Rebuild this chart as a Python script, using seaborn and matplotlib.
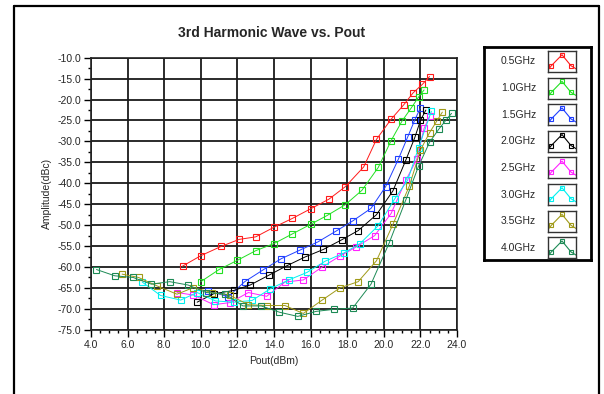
import numpy as np
import pandas as pd
import matplotlib.pyplot as plt
import seaborn as sns
from matplotlib.lines import Line2D
from matplotlib.ticker import MultipleLocator, FormatStrFormatter

# ---- data ----
freqs = ['0.5GHz', '1.0GHz', '1.5GHz', '2.0GHz', '2.5GHz', '3.0GHz', '3.5GHz', '4.0GHz']
colors = ['#ff1a1a', '#22e022', '#1f3fff', '#000000', '#ff22ff', '#00f0f0', '#a09a18', '#1c8a55']

red_x = [9.0, 10.0, 11.1, 12.1, 13.0, 14.0, 15.0, 16.0, 17.0, 17.9, 18.9, 19.6, 20.4, 21.1, 21.6, 22.1, 22.5]
red_y = [-59.8, -57.3, -55.1, -53.4, -52.8, -50.5, -48.4, -46.1, -43.8, -40.8, -36.1, -29.5, -24.7, -21.2, -18.4, -16.4, -14.5]

green_x = [10.0, 11.0, 12.0, 13.0, 14.0, 15.0, 16.0, 16.9, 17.9, 18.8, 19.7, 20.4, 21.0, 21.5, 21.9, 22.2]
green_y = [-63.5, -60.6, -58.4, -56.1, -54.4, -52.1, -49.8, -47.7, -45.1, -41.7, -36.2, -29.8, -25.1, -22.0, -19.4, -17.7]

blue_x = [10.4, 11.5, 12.4, 13.4, 14.4, 15.4, 16.4, 17.4, 18.3, 19.3, 20.1, 20.8, 21.3, 21.7, 22.0]
blue_y = [-65.7, -67.1, -63.5, -60.7, -58.0, -56.0, -54.0, -51.4, -49.0, -46.0, -40.8, -34.2, -29.0, -24.8, -22.0]

black_x = [9.8, 10.7, 11.8, 12.7, 13.7, 14.7, 15.7, 16.7, 17.7, 18.6, 19.6, 20.5, 21.2, 21.7, 22.0, 22.3]
black_y = [-68.4, -66.4, -65.6, -64.3, -62.0, -59.7, -57.6, -55.8, -53.5, -51.3, -47.5, -41.8, -34.5, -29.0, -25.0, -22.5]

magenta_x = [8.7, 9.6, 10.7, 11.6, 12.6, 13.6, 14.6, 15.6, 16.6, 17.6, 18.5, 19.5, 20.4, 21.2, 21.8, 22.2, 22.5]
magenta_y = [-66.1, -66.7, -69.0, -68.5, -66.1, -67.0, -63.6, -63.1, -60.1, -57.4, -55.2, -52.5, -47.2, -39.3, -34.3, -26.9, -24.0]

cyan_x = [6.8, 7.8, 8.9, 9.8, 10.8, 11.8, 12.8, 13.8, 14.8, 15.8, 16.8, 17.8, 18.7, 19.7, 20.6, 21.3, 21.9, 22.6]
cyan_y = [-63.6, -66.8, -67.9, -66.1, -68.1, -68.4, -68.0, -65.2, -63.1, -61.3, -58.6, -56.7, -54.4, -50.1, -43.7, -39.3, -31.5, -22.8]

olive_x = [5.7, 6.6, 7.6, 8.7, 9.6, 10.6, 11.6, 12.6, 13.6, 14.6, 15.6, 16.6, 17.6, 18.6, 19.6, 20.5, 21.4, 22.0, 22.5, 22.9, 23.2]
olive_y = [-61.7, -62.5, -64.5, -66.5, -64.9, -66.1, -66.8, -69.0, -69.2, -69.2, -71.1, -68.0, -65.0, -63.5, -58.5, -49.8, -40.6, -32.1, -27.9, -25.1, -23.0]

dkgreen_x = [4.3, 5.3, 6.3, 7.3, 8.3, 9.3, 10.3, 11.3, 12.3, 13.3, 14.3, 15.3, 16.3, 17.3, 18.3, 19.3, 20.3, 21.2, 21.9, 22.5, 23.0, 23.4, 23.7]
dkgreen_y = [-60.6, -62.1, -62.5, -64.1, -63.5, -64.3, -66.1, -66.4, -69.3, -69.3, -70.8, -71.8, -70.6, -70.1, -69.8, -64.1, -54.2, -44.0, -35.9, -30.2, -27.1, -24.9, -23.3]

series_x = [red_x, green_x, blue_x, black_x, magenta_x, cyan_x, olive_x, dkgreen_x]
series_y = [red_y, green_y, blue_y, black_y, magenta_y, cyan_y, olive_y, dkgreen_y]

# ---- style ----
sns.set_style('white')
plt.rcParams['font.family'] = ['Liberation Sans', 'DejaVu Sans']

W, H = 604, 394
fig = plt.figure(figsize=(W / 100, H / 100), dpi=100)
ax = fig.add_axes([91 / W, 1 - 329.8 / H, (457 - 91) / W, (329.8 - 57.7) / H])

for f, c, xs, ys in zip(freqs, colors, series_x, series_y):
    df = pd.DataFrame({'Pout': xs, 'Amp': ys})
    sns.lineplot(data=df, x='Pout', y='Amp', color=c, linewidth=0.7, sort=False,
                 estimator=None, marker='s', markersize=4, markerfacecolor='none',
                 markeredgecolor=c, markeredgewidth=0.8, ax=ax, zorder=3)

ax.set_xlim(4, 24)
ax.set_ylim(-75, -10)
ax.xaxis.set_major_locator(MultipleLocator(2))
ax.xaxis.set_minor_locator(MultipleLocator(0.5))
ax.yaxis.set_major_locator(MultipleLocator(5))
ax.yaxis.set_minor_locator(MultipleLocator(2.5))
ax.xaxis.set_major_formatter(FormatStrFormatter('%.1f'))
ax.yaxis.set_major_formatter(FormatStrFormatter('%.1f'))
ax.tick_params(which='major', direction='out', length=5, width=1, color='black',
               labelsize=7.5, pad=2, bottom=True, left=True)
ax.tick_params(which='minor', direction='out', length=2.5, width=1, color='black',
               bottom=True, left=True)
ax.grid(True, which='major', color='#1a1a1a', linewidth=1.3)
ax.set_axisbelow(True)
for s in ax.spines.values():
    s.set_color('#222222')
    s.set_linewidth(1.2)

ax.set_xlabel('Pout(dBm)', fontsize=7.5, labelpad=5)
ax.set_ylabel('Amplitude(dBc)', fontsize=7.5, labelpad=4)
fig.text(272 / W, 1 - 33 / H, '3rd Harmonic Wave vs. Pout', ha='center', va='center',
         fontsize=10, fontweight='bold')

# ---- legend panel ----
leg = fig.add_axes([484 / W, 1 - 260 / H, (591 - 484) / W, (260 - 47) / H])
leg.set_xticks([])
leg.set_yticks([])
for s in leg.spines.values():
    s.set_linewidth(2)
    s.set_color('black')

for i, (f, c) in enumerate(zip(freqs, colors)):
    cy = 61.5 + 26.6 * i
    fig.text(536 / W, 1 - cy / H, f, ha='right', va='center', fontsize=7.5)
    ic = fig.add_axes([548 / W, 1 - (cy + 10.5) / H, 28 / W, 21 / H])
    ic.set_xlim(0, 1)
    ic.set_ylim(0, 1)
    ic.set_xticks([])
    ic.set_yticks([])
    for s in ic.spines.values():
        s.set_linewidth(1)
        s.set_color('#333333')
    ic.plot([0.0, 0.12, 0.5, 0.82, 1.0], [0.1, 0.3, 0.82, 0.3, 0.15], color=c, lw=0.8)
    ic.plot([0.12, 0.5, 0.82], [0.3, 0.82, 0.3], ls='none', marker='s', ms=3.5,
            mfc='none', mec=c, mew=0.8)

# ---- outer frame ----
fl, ft, fr = 14 / W, 1 - 6 / H, 599 / W
fig.add_artist(Line2D([fl, fl], [0, ft], transform=fig.transFigure, color='black', lw=1.6))
fig.add_artist(Line2D([fl, fr], [ft, ft], transform=fig.transFigure, color='black', lw=1.6))
fig.add_artist(Line2D([fr, fr], [ft, 0], transform=fig.transFigure, color='black', lw=1.6))

fig.savefig('out.png', dpi=100)
